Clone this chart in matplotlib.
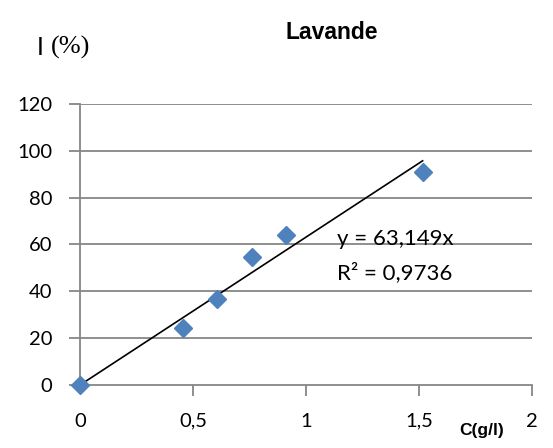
import numpy as np
import matplotlib.pyplot as plt

conc = [0, 0.454, 0.608, 0.76, 0.912, 1.516]
inhib = [0, 24.5, 36.6, 54.5, 64.2, 90.9]
slope = 63.149
r2_text = "R² = 0,9736"
eq_text = "y = 63,149x"
xticks = [0, 0.5, 1, 1.5, 2]
xlabels = ["0", "0,5", "1", "1,5", "2"]
yticks = [0, 20, 40, 60, 80, 100, 120]

fig = plt.figure(figsize=(5.53, 4.48), dpi=100)
ax = fig.add_axes([0.1447, 0.1406, 0.8173, 0.6273])

grid_c = "#868686"
for y in yticks[1:]:
    ax.axhline(y, color=grid_c, lw=1.3, zorder=1)

xfit = np.array([0, max(conc)])
ax.plot(xfit, slope * xfit, color="black", lw=1.2, zorder=2)
ax.plot(conc, inhib, linestyle="none", marker="D", markersize=9.5,
        color="#4F81BD", zorder=3, clip_on=False)

ax.set_xlim(0, 2)
ax.set_ylim(0, 120)
ax.set_xticks(xticks)
ax.set_xticklabels(xlabels)
ax.set_yticks(yticks)
ax.xaxis.get_major_ticks()[0].tick1line.set_visible(False)

for s in ["top", "right"]:
    ax.spines[s].set_visible(False)
for s in ["left", "bottom"]:
    ax.spines[s].set_color(grid_c)
    ax.spines[s].set_linewidth(1.3)

ax.tick_params(axis="both", colors=grid_c, labelcolor="black", length=8,
               width=1.3, labelsize=14.5)
ax.tick_params(axis="x", pad=12)
ax.tick_params(axis="y", pad=12)
for lab in ax.get_xticklabels() + ax.get_yticklabels():
    lab.set_family("Lato")

ax.text(1.137, 62.5, eq_text, fontsize=16, family="Lato", va="center")
ax.text(1.137, 48, r2_text, fontsize=16, family="Lato", va="center")

fig.text(0.6, 0.927, "Lavande", fontsize=16.5, fontweight="bold",
         family="Liberation Sans", ha="center", va="center")
fig.text(0.066, 0.895, "I", fontsize=18, family="Lato", va="center")
fig.text(0.092, 0.895, "(%)", fontsize=19, family="Liberation Serif",
         va="center")
fig.text(0.83, 0.04, "C(g/l)", fontsize=12.5, fontweight="bold",
         family="Liberation Sans", va="center")

fig.savefig("out.png", dpi=100)
